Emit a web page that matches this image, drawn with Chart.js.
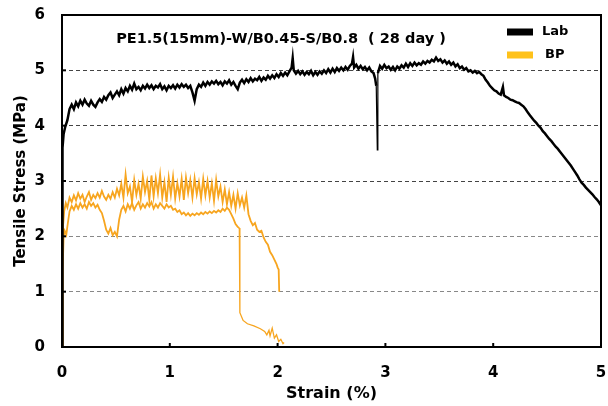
<!DOCTYPE html>
<html><head><meta charset="utf-8">
<script src="https://cdn.jsdelivr.net/npm/chart.js@4/dist/chart.umd.min.js"></script>
<style>html,body{margin:0;padding:0;background:#fff}#wrap{width:608px;height:406px}</style>
</head><body><div id="wrap"><canvas id="c" width="608" height="406"></canvas></div>
<script>
const chartTitle = "PE1.5(15mm)-W/B0.45-S/B0.8  ( 28 day )";
const seriesNames = ["Lab", "BP"];
const xTicks = [0,1,2,3,4,5];
const yTicks = [0,1,2,3,4,5,6];

const labCurve = [
[0,0],[0.002,1.5],[0.004,3.0],[0.008,3.6],[0.015,3.85],[0.03,3.98],[0.05,4.1],[0.07,4.3],[0.09,4.38],[0.11,4.3],
[0.13,4.42],[0.15,4.35],[0.17,4.45],[0.19,4.38],[0.21,4.47],[0.23,4.4],[0.25,4.36],[0.27,4.45],[0.29,4.38],[0.31,4.34],
[0.33,4.42],[0.35,4.48],[0.37,4.43],[0.39,4.52],[0.41,4.47],[0.43,4.55],[0.45,4.6],[0.47,4.5],[0.49,4.56],[0.51,4.62],
[0.53,4.55],[0.55,4.66],[0.57,4.58],[0.59,4.68],[0.61,4.62],[0.63,4.72],[0.65,4.65],[0.67,4.76],[0.69,4.66],[0.71,4.7],
[0.73,4.64],[0.75,4.72],[0.77,4.67],[0.79,4.74],[0.81,4.68],[0.83,4.73],[0.85,4.66],[0.87,4.72],[0.89,4.69],[0.91,4.75],
[0.93,4.66],[0.95,4.71],[0.97,4.64],[0.99,4.72],[1.01,4.68],[1.03,4.73],[1.05,4.67],[1.07,4.74],[1.09,4.69],[1.11,4.75],
[1.13,4.7],[1.15,4.74],[1.17,4.68],[1.19,4.72],[1.21,4.6],[1.23,4.45],[1.25,4.66],[1.27,4.74],[1.29,4.7],[1.31,4.78],
[1.33,4.72],[1.35,4.79],[1.37,4.74],[1.39,4.8],[1.41,4.76],[1.43,4.81],[1.45,4.75],[1.47,4.79],[1.49,4.73],[1.51,4.8],
[1.53,4.76],[1.55,4.82],[1.57,4.74],[1.59,4.79],[1.61,4.72],[1.63,4.66],[1.65,4.78],[1.67,4.83],[1.69,4.77],[1.71,4.84],
[1.73,4.79],[1.75,4.86],[1.77,4.8],[1.79,4.85],[1.81,4.82],[1.83,4.88],[1.85,4.81],[1.87,4.87],[1.89,4.83],[1.91,4.9],
[1.93,4.85],[1.95,4.91],[1.97,4.86],[1.99,4.93],[2.01,4.88],[2.03,4.95],[2.05,4.9],[2.07,4.96],[2.09,4.91],[2.11,4.98],
[2.13,5.05],[2.14,5.22],[2.15,5.0],[2.17,4.94],[2.19,4.99],[2.21,4.93],[2.23,4.98],[2.25,4.92],[2.27,4.97],[2.29,4.93],
[2.31,4.99],[2.33,4.91],[2.35,4.97],[2.37,4.92],[2.39,4.98],[2.41,4.94],[2.43,5.0],[2.45,4.95],[2.47,5.02],[2.49,4.96],
[2.51,5.03],[2.53,4.97],[2.55,5.04],[2.57,4.99],[2.59,5.05],[2.61,5.0],[2.63,5.06],[2.65,5.01],[2.67,5.08],[2.69,5.12],
[2.70,5.24],[2.71,5.05],[2.73,5.1],[2.75,5.03],[2.77,5.08],[2.79,5.02],[2.81,5.06],[2.83,5.0],[2.85,5.05],[2.87,4.98],
[2.89,4.95],[2.905,4.85],[2.915,4.72],[2.925,3.56],[2.93,4.95],[2.95,5.08],[2.97,5.03],[2.99,5.1],[3.01,5.04],[3.03,5.07],
[3.05,5.01],[3.07,5.06],[3.09,5.0],[3.11,5.07],[3.13,5.03],[3.15,5.09],[3.17,5.05],[3.19,5.12],[3.21,5.06],[3.23,5.13],
[3.25,5.08],[3.27,5.14],[3.29,5.09],[3.31,5.13],[3.33,5.1],[3.35,5.16],[3.37,5.12],[3.39,5.17],[3.41,5.14],[3.43,5.19],
[3.45,5.16],[3.47,5.23],[3.49,5.17],[3.51,5.2],[3.53,5.14],[3.55,5.18],[3.57,5.12],[3.59,5.16],[3.61,5.1],[3.63,5.14],
[3.65,5.07],[3.67,5.11],[3.69,5.04],[3.71,5.07],[3.73,5.01],[3.75,5.04],[3.77,4.98],[3.79,5.0],[3.81,4.96],[3.83,4.99],
[3.85,4.95],[3.87,4.97],[3.89,4.93],[3.91,4.9],[3.93,4.83],[3.95,4.78],[3.97,4.72],[3.99,4.68],[4.01,4.64],[4.03,4.62],
[4.05,4.58],[4.07,4.56],[4.09,4.7],[4.10,4.55],[4.12,4.52],[4.14,4.5],[4.16,4.47],[4.18,4.46],[4.20,4.44],[4.22,4.42],
[4.24,4.41],[4.26,4.38],[4.28,4.35],[4.30,4.3],[4.32,4.24],[4.34,4.19],[4.36,4.14],[4.38,4.09],[4.40,4.05],[4.42,4.0],
[4.44,3.96],[4.46,3.9],[4.48,3.86],[4.50,3.81],[4.52,3.76],[4.54,3.72],[4.56,3.67],[4.58,3.62],[4.60,3.58],[4.62,3.53],
[4.64,3.48],[4.66,3.43],[4.68,3.38],[4.70,3.33],[4.72,3.28],[4.74,3.22],[4.76,3.16],[4.78,3.1],[4.80,3.03],[4.82,2.97],
[4.84,2.93],[4.86,2.88],[4.88,2.84],[4.90,2.8],[4.92,2.76],[4.94,2.71],[4.96,2.67],[4.98,2.62],[5.0,2.56]
];

const bpCurveA = [
[0,0],[0.003,0.7],[0.006,1.6],[0.01,2.2],[0.02,2.45],[0.035,2.6],[0.05,2.52],[0.07,2.7],[0.09,2.62],[0.11,2.74],
[0.13,2.65],[0.15,2.78],[0.17,2.68],[0.19,2.75],[0.21,2.62],[0.23,2.72],[0.25,2.8],[0.27,2.66],[0.29,2.75],[0.31,2.69],
[0.33,2.78],[0.35,2.7],[0.37,2.82],[0.39,2.72],[0.41,2.66],[0.43,2.75],[0.45,2.68],[0.47,2.8],[0.49,2.7],[0.51,2.86],
[0.53,2.74],[0.55,2.95],[0.57,2.7],[0.59,3.12],[0.61,2.78],[0.63,2.9],[0.65,2.62],[0.67,3.02],[0.69,2.75],[0.71,2.95],
[0.73,2.68],[0.75,3.08],[0.77,2.8],[0.79,3.0],[0.81,2.66],[0.83,3.1],[0.85,2.72],[0.87,3.05],[0.89,2.78],[0.91,3.12],
[0.93,2.7],[0.95,2.98],[0.97,2.62],[0.99,3.06],[1.01,2.75],[1.03,3.08],[1.05,2.68],[1.07,2.96],[1.09,2.72],[1.11,3.04],
[1.13,2.66],[1.15,3.06],[1.17,2.78],[1.19,3.02],[1.21,2.7],[1.23,3.05],[1.25,2.76],[1.27,2.98],[1.29,2.68],[1.31,3.04],
[1.33,2.74],[1.35,3.0],[1.37,2.7],[1.39,2.96],[1.41,2.64],[1.43,3.02],[1.45,2.72],[1.47,2.9],[1.49,2.62],[1.51,2.85],
[1.53,2.58],[1.55,2.8],[1.57,2.55],[1.59,2.75],[1.61,2.5],[1.63,2.78],[1.65,2.56],[1.67,2.7],[1.69,2.52],[1.71,2.74],
[1.73,2.4],[1.75,2.28],[1.77,2.2],[1.79,2.24],[1.81,2.12],[1.83,2.08],[1.85,2.1],[1.87,1.98],[1.89,1.9],[1.91,1.85],
[1.93,1.72],[1.95,1.66],[1.97,1.58],[1.99,1.5],[2.0,1.44],[2.01,1.4],[2.015,1.0]
];

const bpCurveB = [
[0,0],[0.004,0.6],[0.008,1.4],[0.015,2.0],[0.025,2.1],[0.04,2.03],[0.055,2.25],[0.07,2.45],[0.09,2.55],[0.11,2.48],
[0.13,2.58],[0.15,2.5],[0.17,2.6],[0.19,2.52],[0.21,2.58],[0.23,2.5],[0.25,2.62],[0.27,2.55],[0.29,2.6],[0.31,2.52],
[0.33,2.57],[0.35,2.48],[0.37,2.42],[0.39,2.28],[0.41,2.12],[0.43,2.05],[0.45,2.15],[0.47,2.02],[0.49,2.08],[0.51,2.0],
[0.53,2.3],[0.55,2.48],[0.57,2.55],[0.59,2.45],[0.61,2.58],[0.63,2.5],[0.65,2.6],[0.67,2.48],[0.69,2.56],[0.71,2.62],
[0.73,2.5],[0.75,2.58],[0.77,2.52],[0.79,2.6],[0.81,2.54],[0.83,2.62],[0.85,2.5],[0.87,2.58],[0.89,2.52],[0.91,2.6],
[0.93,2.55],[0.95,2.5],[0.97,2.58],[0.99,2.52],[1.01,2.55],[1.03,2.48],[1.05,2.5],[1.07,2.44],[1.09,2.47],[1.11,2.4],
[1.13,2.43],[1.15,2.38],[1.17,2.42],[1.19,2.37],[1.21,2.41],[1.23,2.38],[1.25,2.42],[1.27,2.39],[1.29,2.43],[1.31,2.4],
[1.33,2.44],[1.35,2.41],[1.37,2.45],[1.39,2.42],[1.41,2.46],[1.43,2.43],[1.45,2.47],[1.47,2.44],[1.49,2.5],[1.51,2.46],
[1.53,2.52],[1.55,2.48],[1.57,2.4],[1.59,2.32],[1.61,2.22],[1.63,2.17],[1.645,2.15],[1.65,0.62],[1.68,0.48],[1.72,0.42],
[1.78,0.38],[1.84,0.33],[1.88,0.28],[1.9,0.22],[1.92,0.3],[1.93,0.2],[1.95,0.34],[1.97,0.16],[1.99,0.22],[2.01,0.1],
[2.03,0.14],[2.05,0.06],[2.06,0.08]
];

const labColor = "#000000";
const bpColor = "#F7A51F";
const bpSwatch = "#FFC21A";
const fontFam = "'DejaVu Sans', sans-serif";

const toPts = a => a.map(p => ({x: p[0], y: p[1]}));

const overlay = {
  id: 'overlay',
  afterDatasetsDraw(chart) {
    const ctx = chart.ctx, a = chart.chartArea;
    const xs = chart.scales.x, ys = chart.scales.y;
    ctx.save();
    ctx.strokeStyle = '#000'; ctx.lineWidth = 2;
    xTicks.slice(1, -1).forEach(v => { const px = xs.getPixelForValue(v); ctx.beginPath(); ctx.moveTo(px, a.bottom); ctx.lineTo(px, a.bottom - 4); ctx.stroke(); });
    yTicks.slice(1, -1).forEach(v => { const py = ys.getPixelForValue(v); ctx.beginPath(); ctx.moveTo(a.left, py); ctx.lineTo(a.left + 4, py); ctx.stroke(); });
    ctx.lineWidth = 2;
    ctx.strokeRect(a.left, a.top, a.right - a.left, a.bottom - a.top);
    ctx.fillStyle = '#000';
    ctx.font = "bold 14.5px " + fontFam;
    ctx.textAlign = 'center'; ctx.textBaseline = 'middle';
    ctx.fillText(chartTitle, 281, 39);
    const items = [[seriesNames[0], labColor, 32, 542], [seriesNames[1], bpSwatch, 55, 545]];
    ctx.textAlign = 'left';
    ctx.font = "bold 13px " + fontFam;
    items.forEach(([t, col, y, tx]) => {
      ctx.fillStyle = col; ctx.fillRect(507, y - 3.5, 26, 7);
      ctx.fillStyle = '#000'; ctx.fillText(t, tx, y);
    });
    ctx.restore();
  }
};

// thin segments for the sharp vertical drops (Lab at 2.925, BP after 1.645)
const labSeg = c => (c.p0.parsed.x >= 2.914 && c.p1.parsed.x <= 2.931) ? 1.2 : 2.5;
const bpBSeg = c => (c.p0.parsed.x >= 1.645) ? 1.3 : 1.8;

new Chart(document.getElementById('c'), {
  type: 'line',
  data: {
    datasets: [
      {label: seriesNames[0], data: toPts(labCurve), borderColor: labColor, borderWidth: 2.5, segment: {borderWidth: labSeg}, pointRadius: 0, tension: 0, fill: false},
      {label: seriesNames[1], data: toPts(bpCurveA), borderColor: bpColor, borderWidth: 1.8, pointRadius: 0, tension: 0, fill: false},
      {label: seriesNames[1] + " ", data: toPts(bpCurveB), borderColor: bpColor, borderWidth: 1.8, segment: {borderWidth: bpBSeg}, pointRadius: 0, tension: 0, fill: false}
    ]
  },
  options: {
    responsive: false, animation: false, devicePixelRatio: 1,
    layout: {padding: {left: 0, right: 7, top: 15, bottom: 0}},
    plugins: {legend: {display: false}, tooltip: {enabled: false}},
    scales: {
      x: {
        type: 'linear', min: 0, max: 5,
        afterFit: s => { s.height = 59; s.paddingLeft = 0; s.paddingRight = 0; },
        afterBuildTicks: s => { s.ticks = xTicks.map(v => ({value: v})); },
        grid: {display: false, drawTicks: false},
        border: {display: false},
        ticks: {color: '#000', padding: 17, font: {family: fontFam, size: 15, weight: 'bold'}, maxRotation: 0},
        title: {display: true, text: 'Strain (%)', color: '#000', font: {family: fontFam, size: 16, weight: 'bold'}, padding: {top: 0, bottom: 3}}
      },
      y: {
        type: 'linear', min: 0, max: 6,
        afterFit: s => { s.width = 62; s.paddingTop = 0; s.paddingBottom = 0; },
        afterBuildTicks: s => { s.ticks = yTicks.map(v => ({value: v})); },
        grid: {
          drawTicks: false,
          color: ctx => (ctx.tick && (ctx.tick.value === 0 || ctx.tick.value === 6)) ? 'rgba(0,0,0,0)' : (ctx.tick && ctx.tick.value >= 3 ? '#444' : '#888'),
          lineWidth: 1
        },
        border: {display: false, dash: [4, 3]},
        ticks: {color: '#000', padding: 17, font: {family: fontFam, size: 15, weight: 'bold'}},
        title: {display: true, text: 'Tensile Stress (MPa)', color: '#000', font: {family: fontFam, size: 15, weight: 'bold'}, padding: {top: 12, bottom: 0}}
      }
    }
  },
  plugins: [overlay]
});
</script></body></html>
